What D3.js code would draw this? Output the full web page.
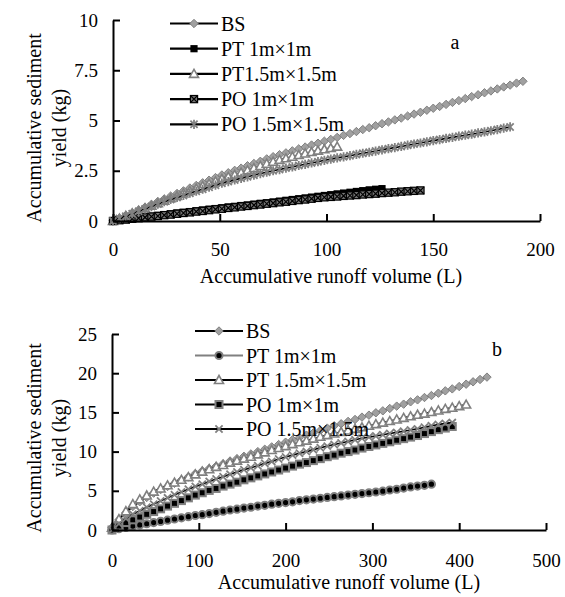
<!DOCTYPE html>
<html>
<head>
<meta charset="utf-8">
<script src="https://cdn.jsdelivr.net/npm/d3@7"></script>
<style>
  body { margin: 0; background: #fff; }
  svg text { font-family: "Liberation Serif", "Times New Roman", serif; fill: #000; }
</style>
</head>
<body>
<script>
// Panel a: cumulative runoff (L) grid and cumulative sediment (kg) per treatment
var runoffA = [0,3,6,9,12,15,18,21,24,27,30,33,36,39,42,45,48,51,54,57,60,63,66,69,72,75,78,81,84,87,90,93,96,99,
  102,105,108,111,114,117,120,123,126,129,132,135,138,141,144,147,150,153,156,159,162,165,168,171,174,177,180,183,186,189,192];
var bsA = [0,0.14,0.28,0.41,0.55,0.69,0.83,0.97,1.10,1.24,1.37,1.50,1.64,1.77,1.90,2.03,2.16,2.29,2.40,2.52,2.63,2.75,2.86,2.97,3.09,3.20,
  3.30,3.39,3.49,3.59,3.68,3.78,3.87,3.97,4.06,4.16,4.26,4.35,4.45,4.55,4.64,4.74,4.84,4.93,5.03,5.12,5.22,5.32,5.41,5.51,5.61,5.70,
  5.80,5.90,5.99,6.09,6.19,6.28,6.38,6.47,6.57,6.67,6.76,6.86,6.95];
var pt1A = [0,0.04,0.08,0.12,0.16,0.20,0.24,0.28,0.32,0.36,0.40,0.43,0.47,0.51,0.55,0.59,0.62,0.66,0.70,0.73,0.77,0.80,0.84,0.88,0.91,
  0.95,0.99,1.03,1.07,1.11,1.15,1.19,1.23,1.27,1.31,1.35,1.39,1.43,1.47,1.51,1.55,1.58,1.61];
var pt15A = [0,0.12,0.25,0.38,0.50,0.63,0.76,0.88,1.01,1.13,1.25,1.37,1.49,1.61,1.73,1.85,1.97,2.09,2.20,2.30,2.41,2.52,2.63,2.74,2.85,
  2.95,3.04,3.12,3.20,3.28,3.36,3.43,3.50,3.57,3.63,3.70];
var po1A = [0,0.04,0.07,0.11,0.14,0.18,0.22,0.25,0.29,0.32,0.36,0.40,0.43,0.47,0.50,0.54,0.58,0.61,0.65,0.68,0.72,0.75,0.79,0.82,0.86,
  0.89,0.93,0.96,1.00,1.04,1.07,1.11,1.15,1.18,1.20,1.22,1.25,1.27,1.29,1.32,1.34,1.36,1.39,1.41,1.43,1.46,1.48,1.50,1.52];
var po15A = [0,0.12,0.24,0.36,0.48,0.60,0.72,0.84,0.96,1.07,1.17,1.27,1.38,1.48,1.58,1.68,1.78,1.88,1.96,2.04,2.12,2.20,2.28,2.36,2.43,
  2.50,2.56,2.63,2.69,2.76,2.82,2.89,2.95,3.02,3.08,3.14,3.19,3.25,3.31,3.37,3.42,3.48,3.54,3.60,3.65,3.71,3.77,3.83,3.88,3.94,4.00,
  4.05,4.11,4.16,4.22,4.27,4.32,4.38,4.43,4.49,4.55,4.62,4.68];

// Panel b
var runoffB = [0,8,16,24,32,40,48,56,64,72,80,88,96,104,112,120,128,136,144,152,160,168,176,184,192,200,208,216,224,232,240,
  248,256,264,272,280,288,296,304,312,320,328,336,344,352,360,368,376,384,392,400,408,416,424,432];
var bsB = [0.3,1.3,2.2,3.0,3.6,4.15,4.7,5.15,5.55,5.95,6.4,6.8,7.2,7.55,7.85,8.15,8.45,8.8,9.1,9.4,9.7,10.0,10.3,10.6,10.9,11.2,11.5,
  11.8,12.1,12.4,12.7,13.0,13.3,13.55,13.85,14.1,14.4,14.65,14.95,15.2,15.5,15.8,16.05,16.35,16.6,16.9,17.15,17.45,17.75,18.0,18.3,
  18.6,18.9,19.2,19.5];
var pt1B = [0,0.17,0.33,0.5,0.65,0.8,0.95,1.1,1.25,1.4,1.55,1.7,1.85,1.95,2.1,2.25,2.4,2.55,2.65,2.8,2.9,3.05,3.15,3.3,3.4,3.5,3.6,
  3.75,3.85,3.95,4.05,4.15,4.25,4.35,4.45,4.55,4.65,4.75,4.85,4.95,5.1,5.2,5.35,5.5,5.6,5.7,5.85];
var pt15B = [0.3,1.4,2.4,3.3,3.9,4.4,4.9,5.3,5.7,6.05,6.4,6.75,7.1,7.45,7.75,8.05,8.3,8.6,8.85,9.1,9.35,9.65,9.9,10.2,10.45,10.7,
  10.95,11.2,11.4,11.65,11.9,12.1,12.3,12.5,12.7,12.9,13.1,13.3,13.5,13.7,13.9,14.1,14.3,14.5,14.7,14.85,15.05,15.25,15.45,15.6,15.8,16.0];
var po1B = [0,0.5,0.95,1.3,1.65,2.0,2.35,2.7,3.05,3.4,3.75,4.1,4.45,4.75,5.05,5.3,5.6,5.85,6.1,6.4,6.65,6.9,7.15,7.4,7.65,7.9,8.15,
  8.4,8.6,8.85,9.1,9.35,9.55,9.8,10.0,10.2,10.45,10.65,10.85,11.05,11.25,11.45,11.65,11.85,12.05,12.3,12.55,12.8,13.0,13.2];
var po15B = [0,0.8,1.45,2.0,2.45,2.9,3.3,3.7,4.1,4.5,4.85,5.2,5.55,5.85,6.2,6.5,6.8,7.1,7.4,7.7,7.95,8.2,8.5,8.75,9.05,9.3,9.55,9.8,
  10.0,10.25,10.5,10.7,10.9,11.1,11.3,11.5,11.7,11.85,12.0,12.15,12.3,12.45,12.6,12.75,12.9,13.1,13.3,13.45,13.6,13.7];

var namesA = ['BS', 'PT 1m\u00d71m', 'PT1.5m\u00d71.5m', 'PO 1m\u00d71m', 'PO 1.5m\u00d71.5m'];
var namesB = ['BS', 'PT 1m\u00d71m', 'PT 1.5m\u00d71.5m', 'PO 1m\u00d71m', 'PO 1.5m\u00d71.5m'];
var xTicksA = [0, 50, 100, 150, 200];
var yTicksA = [0, 2.5, 5, 7.5, 10];
var xTicksB = [0, 100, 200, 300, 400, 500];
var yTicksB = [0, 5, 10, 15, 20, 25];

var gray = '#808080';

var svg = d3.select('body').append('svg')
  .attr('width', 565)
  .attr('height', 597);

// marker drawers: each appends shapes into g centered at 0,0
var markers = {
  diamond: function(g) {
    g.append('path').attr('d', 'M0,-4.2L4.2,0L0,4.2L-4.2,0Z')
      .attr('fill', '#a0a0a0').attr('stroke', gray).attr('stroke-width', 1);
  },
  squareBlack: function(g) {
    g.append('rect').attr('x', -3.6).attr('y', -3.6).attr('width', 7.2).attr('height', 7.2).attr('fill', '#000');
  },
  triangle: function(g) {
    g.append('path').attr('d', 'M0,-4.5L4.5,3.5L-4.5,3.5Z')
      .attr('fill', '#fff').attr('stroke', gray).attr('stroke-width', 1.6);
  },
  xsquare: function(g) {
    g.append('rect').attr('x', -3.6).attr('y', -3.6).attr('width', 7.2).attr('height', 7.2)
      .attr('fill', '#777').attr('stroke', '#000').attr('stroke-width', 1.2);
    g.append('path').attr('d', 'M-3.6,-3.6L3.6,3.6M3.6,-3.6L-3.6,3.6')
      .attr('stroke', '#000').attr('stroke-width', 1.2);
  },
  asterisk: function(g) {
    g.append('path').attr('d', 'M-3.6,-3.6L3.6,3.6M3.6,-3.6L-3.6,3.6M0,-4.6L0,4.6')
      .attr('stroke', gray).attr('stroke-width', 1.8).attr('fill', 'none');
  },
  circle: function(g) {
    g.append('circle').attr('r', 3.6)
      .attr('fill', '#000').attr('stroke', gray).attr('stroke-width', 2);
  },
  squareGray: function(g) {
    g.append('rect').attr('x', -3.5).attr('y', -3.5).attr('width', 7).attr('height', 7)
      .attr('fill', '#000').attr('stroke', gray).attr('stroke-width', 2);
  },
  cross: function(g) {
    g.append('path').attr('d', 'M-3.6,-3.6L3.6,3.6M3.6,-3.6L-3.6,3.6')
      .attr('stroke', gray).attr('stroke-width', 1.8).attr('fill', 'none');
  }
};

function drawPanel(p) {
  var x = d3.scaleLinear().domain(p.xDomain).range([p.left, p.right]);
  var y = d3.scaleLinear().domain(p.yDomain).range([p.bottom, p.top]);
  var g = svg.append('g');

  // series
  p.series.forEach(function(s) {
    var pts = s.values.map(function(v, i) { return [p.runoff[i], v]; });
    var line = d3.line().x(d => x(d[0])).y(d => y(d[1]));
    g.append('path').datum(pts)
      .attr('d', line)
      .attr('fill', 'none')
      .attr('stroke', s.lineColor)
      .attr('stroke-width', 1.6);
    g.selectAll(null).data(pts).enter().append('g')
      .attr('transform', d => 'translate(' + x(d[0]) + ',' + y(d[1]) + ')')
      .each(function() { markers[s.marker](d3.select(this)); });
  });

  // axes, ticks point inwards
  var xAxis = g.append('g').attr('transform', 'translate(0,' + p.bottom + ')')
    .call(d3.axisBottom(x).tickValues(p.xTicks).tickSizeInner(-7).tickSizeOuter(0).tickPadding(p.xPad)
      .tickFormat(d => String(d)));
  var yAxis = g.append('g').attr('transform', 'translate(' + p.left + ',0)')
    .call(d3.axisLeft(y).tickValues(p.yTicks).tickSizeInner(-7).tickSizeOuter(0).tickPadding(15)
      .tickFormat(d => String(d)));
  [xAxis, yAxis].forEach(function(a) {
    a.selectAll('path, line').attr('stroke', '#000').attr('stroke-width', 2);
    a.selectAll('text').style('font-size', '19px');
  });

  // axis titles
  g.append('text')
    .attr('x', p.xTitle[0])
    .attr('y', p.xTitle[1])
    .attr('text-anchor', 'middle')
    .style('font-size', '20px')
    .text('Accumulative runoff volume (L)');
  var yc = p.yTitleCenter;
  g.append('text')
    .attr('transform', 'translate(' + p.yTitleX[0] + ',' + yc + ') rotate(-90)')
    .attr('text-anchor', 'middle')
    .style('font-size', '20px')
    .text('Accumulative sediment');
  g.append('text')
    .attr('transform', 'translate(' + p.yTitleX[1] + ',' + yc + ') rotate(-90)')
    .attr('text-anchor', 'middle')
    .style('font-size', '20px')
    .text('yield (kg)');

  // legend
  var leg = g.append('g');
  p.series.forEach(function(s, i) {
    var ly = p.legendTop + i * p.legendStep;
    var row = leg.append('g').attr('transform', 'translate(' + p.legendX + ',' + ly + ')');
    row.append('line').attr('x1', 0).attr('x2', 48).attr('y1', 0).attr('y2', 0)
      .attr('stroke', s.lineColor).attr('stroke-width', 2.2);
    markers[s.marker](row.append('g').attr('transform', 'translate(24,0)'));
    row.append('text').attr('x', 51).attr('y', 7).style('font-size', '20px').text(s.name);
  });

  g.append('text').attr('x', p.tag[0]).attr('y', p.tag[1])
    .attr('text-anchor', 'middle')
    .style('font-size', '20px').text(p.tagText);
}

drawPanel({
  xDomain: [0, 200], yDomain: [0, 10],
  left: 113, right: 540, top: 20, bottom: 221,
  runoff: runoffA,
  xTicks: xTicksA, yTicks: yTicksA, xPad: 22,
  xTitle: [331, 283], yTitleX: [41, 66], yTitleCenter: 128,
  legendX: 170, legendTop: 23.5, legendStep: 25.2,
  tag: [455, 49], tagText: 'a',
  series: [
    { name: namesA[0], values: bsA, marker: 'diamond', lineColor: '#000' },
    { name: namesA[1], values: pt1A, marker: 'squareBlack', lineColor: '#000' },
    { name: namesA[2], values: pt15A, marker: 'triangle', lineColor: '#000' },
    { name: namesA[3], values: po1A, marker: 'xsquare', lineColor: '#000' },
    { name: namesA[4], values: po15A, marker: 'asterisk', lineColor: '#000' }
  ]
});

drawPanel({
  xDomain: [0, 500], yDomain: [0, 25],
  left: 112, right: 546, top: 334, bottom: 530,
  runoff: runoffB,
  xTicks: xTicksB, yTicks: yTicksB, xPad: 24,
  xTitle: [349, 589], yTitleX: [41, 66], yTitleCenter: 438,
  legendX: 195, legendTop: 331, legendStep: 24.5,
  tag: [497, 356], tagText: 'b',
  series: [
    { name: namesB[0], values: bsB, marker: 'diamond', lineColor: '#000' },
    { name: namesB[1], values: pt1B, marker: 'circle', lineColor: gray },
    { name: namesB[2], values: pt15B, marker: 'triangle', lineColor: '#000' },
    { name: namesB[3], values: po1B, marker: 'squareGray', lineColor: '#000' },
    { name: namesB[4], values: po15B, marker: 'cross', lineColor: '#000' }
  ]
});
</script>
</body>
</html>
